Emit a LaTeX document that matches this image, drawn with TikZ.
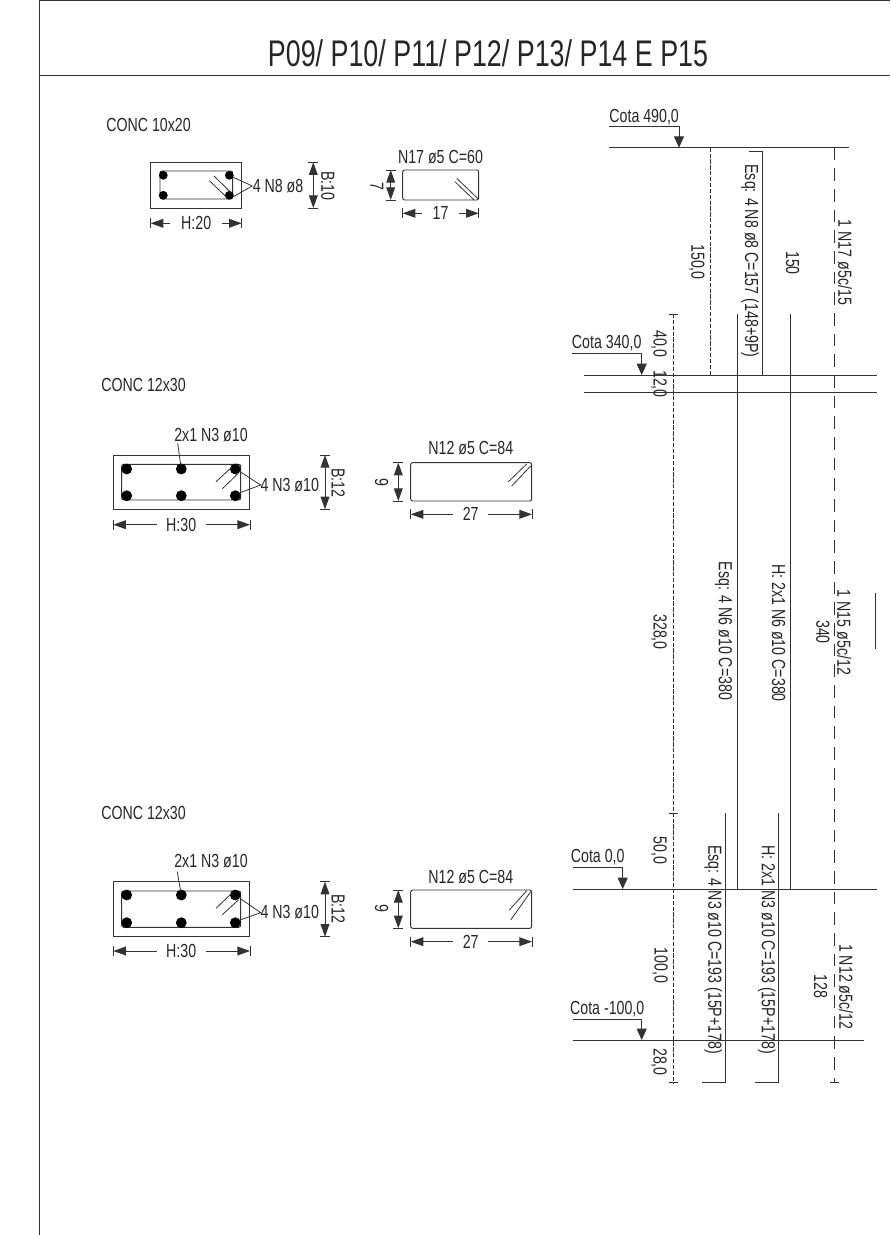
\documentclass[tikz,border=0pt]{standalone}
\usepackage{fontspec}
\setmainfont[FakeStretch=0.75]{Liberation Sans}
\newfontfamily\titlefont[FakeStretch=0.725]{Liberation Sans}
\usetikzlibrary{arrows.meta}
\definecolor{lineink}{gray}{0.2}
\tikzset{
  txt/.style={inner sep=0pt,font=\fontsize{14.2pt}{16pt}\selectfont,text=black!85},
  vtxt/.style={txt,rotate=-90},
  lefttxt/.style={txt,anchor=west},
  ttl/.style={inner sep=0pt,font=\titlefont\fontsize{27.8pt}{30pt}\selectfont,text=black!85},
  ln/.style={draw=lineink,line width=0.7pt},
  thin line/.style={draw=lineink,line width=0.6pt},
  tip/.style={-{Triangle[length=9.5pt,width=6.6pt]}},
  cotatip/.style={-{Triangle[length=8.5pt,width=7.5pt]}},
  conc/.style={ln},
  stir/.style={ln,rounded corners=1.5pt},
  sdash/.style={thin line,dash pattern=on 3.2pt off 1.2pt},
  ldash/.style={thin line,dash pattern=on 9.5pt off 6pt},
  bar/.style={fill=black,draw=none}
}
\newcommand{\HDim}[6]{% y, x1, x2, xa, xb, text
  \draw[ln] (#2,#1-5)--(#2,#1+5) (#3,#1-5)--(#3,#1+5);
  \draw[ln,tip] (#4,#1)--(#2,#1);
  \draw[ln,tip] (#5,#1)--(#3,#1);
  \node[txt] at ({(#4+#5)/2},#1) {#6};}
\newcommand{\VDim}[3]{% x, y1, y2
  \draw[ln] (#1-5,#2)--(#1+5,#2) (#1-5,#3)--(#1+5,#3);
  \draw[ln,tip] ({#1},{(#2+#3)/2})--(#1,#2);
  \draw[ln,tip] ({#1},{(#2+#3)/2})--(#1,#3);}
\newcommand{\Cota}[6]{% text, x1, x2, ytext, yline, ytip
  \node[txt] at ({(#2+#3)/2},#4) {#1};
  \draw[ln] (#2,#5)--(#3,#5)--(#3,#6-11);
  \draw[ln,cotatip] (#3,#6-11)--(#3,#6);}
\begin{document}
\begin{tikzpicture}[x=0.75pt,y=-0.75pt]
\useasboundingbox (0,0) rectangle (890,1235);
\fill[white] (0,0) rectangle (890,1235);
% frame
\draw[ln] (39,1235)--(39,0.5)--(890,0.5);
\draw[ln] (39,75)--(890,75);
\node[ttl] (title) at (488,53.5) {P09/ P10/ P11/ P12/ P13/ P14 E P15};

% ---- section 1
\node[lefttxt] (c1) at (106,125) {CONC 10x20};
\draw[conc] (150.7,162.3) rectangle (241.7,208);
\draw[stir] (160,171) rectangle (232.7,199);
\foreach \x/\y in {163.3/175.3,229.3/175.3,163.3/195.3,229.3/195.3}
  \fill[bar] (\x,\y) circle[radius=4.4];
\draw[thin line] (214,176)--(231.7,193.3) (209.3,180.7)--(226.7,197.3);
\draw[thin line] (233.3,177.3)--(252.3,186)--(233.3,196.7);
\node[lefttxt] (n8) at (252.5,186) {4 N8 ø8};
\VDim{313.3}{162.3}{208}
\node[vtxt] (b10) at (328,186) {B:10};
\HDim{223.3}{150.7}{241.7}{170}{222.3}{H:20}
\draw[stir] (402.7,170) rectangle (478.7,200);
\draw[thin line] (456.7,178.3)--(478.3,199) (455,181.7)--(474,200);
\node[txt] (n17) at (440.5,156.7) {N17 ø5 C=60};
\VDim{390.7}{170}{200}
\node[vtxt] (d7) at (377,186) {7};
\HDim{213.3}{402.7}{478.7}{421.7}{459.3}{17}

% ---- section 2
\node[lefttxt] (c2) at (101,385) {CONC 12x30};
\draw[conc] (113.3,455) rectangle (249.3,509.3);
\draw[stir] (121.7,464.3) rectangle (240.7,500);
\foreach \x in {126.7,181.3,235.3} \foreach \y in {469,495.7}
  \fill[bar] (\x,\y) circle[radius=5.4];
\draw[thin line] (216,481.7)--(231.7,467.3) (222.3,488.7)--(238.3,473.3);
\draw[thin line] (240,471.7)--(260.7,485)--(240,492.7);
\node[lefttxt] (n3a) at (260.3,485) {4 N3 ø10};
\node[txt] (n3b) at (211,435) {2x1 N3 ø10};
\draw[thin line] (177.7,443.3)--(180.7,465);
\VDim{325}{455}{509.3}
\node[vtxt] (b12a) at (338.3,482.7) {B:12};
\HDim{524.7}{113.3}{250}{156.7}{205.7}{H:30}
\draw[stir] (410.7,462.7) rectangle (531.7,501);
\draw[thin line] (508.3,481.7)--(526.7,464) (511.7,486)--(530.7,466);
\node[txt] (n12a) at (470.8,448.3) {N12 ø5 C=84};
\VDim{398.3}{462.7}{501}
\node[vtxt] (d9a) at (381.7,482.7) {9};
\HDim{514.3}{410.7}{532}{453}{488.3}{27}

% ---- section 3
\node[lefttxt] (c3) at (101,813) {CONC 12x30};
\draw[conc] (113.3,881.7) rectangle (249.3,936.7);
\draw[stir] (121.7,891) rectangle (240.7,927.3);
\foreach \x in {126.7,181.3,235.3} \foreach \y in {895,922.7}
  \fill[bar] (\x,\y) circle[radius=5.4];
\draw[thin line] (216,908.3)--(231.7,893.3) (222.3,914.7)--(238.3,900);
\draw[thin line] (240,898.3)--(260.7,912.7)--(240,920);
\node[lefttxt] (n3c) at (260.3,912.5) {4 N3 ø10};
\node[txt] (n3d) at (211,860.7) {2x1 N3 ø10};
\draw[thin line] (177.3,871.7)--(180.7,891.7);
\VDim{325}{881.7}{936.7}
\node[vtxt] (b12b) at (338.3,909) {B:12};
\HDim{951}{113.3}{250}{156.7}{205.7}{H:30}
\draw[stir] (410.7,890) rectangle (531.7,928.3);
\draw[thin line] (509.3,910)--(526.7,890.7) (510.7,920)--(530.7,891.7);
\node[txt] (n12b) at (470.8,876.7) {N12 ø5 C=84};
\VDim{398.3}{890}{928.3}
\node[vtxt] (d9b) at (381.7,908) {9};
\HDim{941.7}{410.7}{532}{453}{488.3}{27}

% ---- elevation: levels
\draw[ln] (609,147.7)--(849,147.7);
\draw[ln] (584,375)--(876.7,375);
\draw[ln] (609,375)--(849,375);
\draw[ln] (584,392.7)--(876.7,392.7);
\draw[ln] (572.7,889)--(876.7,889);
\draw[ln] (572.7,1040)--(864,1040);
% cotas
\Cota{Cota 490,0}{609.3}{679}{116.7}{126.7}{147.7}
\Cota{Cota 340,0}{571.7}{641.7}{343.3}{353.3}{375}
\Cota{Cota 0,0}{572.7}{622.7}{857.3}{867.7}{889}
\Cota{Cota -100,0}{572.7}{641.7}{1009}{1019}{1040}
% dimension line
\draw[sdash] (673.3,314)--(673.3,1082.7);
\draw[thin line] (668.5,314)--(678,314) (668.5,392.7)--(678,392.7) (668.5,813.3)--(678,813.3) (668.5,1082.7)--(678,1082.7);
\draw[sdash] (710.7,147.7)--(710.7,375);
% bars
\draw[ln] (749,151)--(762.7,151)--(762.7,375);
\draw[ln] (737.7,314)--(737.7,889);
\draw[ln] (790.3,314)--(790.3,889);
\draw[ln] (725.3,813.3)--(725.3,1082.7)--(702.3,1082.7);
\draw[ln] (778,813.3)--(778,1082.7)--(755.3,1082.7);
% stirrup line
\draw[ldash] (834.3,147.7)--(834.3,1082.7);
\draw[thin line] (830,1082.7)--(838.7,1082.7);
\draw[ln] (875,593)--(875,649);
% dimension labels
\node[vtxt] (l150a) at (696.7,262) {150,0};
\node[vtxt] (l40) at (659,344) {40,0};
\node[vtxt] (l12) at (659,384) {12,0};
\node[vtxt] (l328) at (659,632) {328,0};
\node[vtxt] (l50) at (659,850.7) {50,0};
\node[vtxt] (l100) at (660,965.5) {100,0};
\node[vtxt] (l28) at (659,1062) {28,0};
\node[vtxt] (l150b) at (792.7,263) {150};
\node[vtxt] (l340) at (823,632) {340};
\node[vtxt] (l128) at (820.7,986.7) {128};
% bar labels
\node[vtxt] (e1) at (750,261) {Esq: 4 N8 ø8 C=157 (148+9P)};
\node[vtxt] (e2) at (723.5,631) {Esq: 4 N6 ø10 C=380};
\node[vtxt] (h2) at (778.5,633) {H: 2x1 N6 ø10 C=380};
\node[vtxt] (e3) at (713.3,949.7) {Esq: 4 N3 ø10 C=193 (15P+178)};
\node[vtxt] (h3) at (766.7,949.7) {H: 2x1 N3 ø10 C=193 (15P+178)};
\node[vtxt] (s1) at (845,262.5) {1 N17 ø5c/15};
\node[vtxt] (s2) at (844,632.5) {1 N15 ø5c/12};
\node[vtxt] (s3) at (846,986.7) {1 N12 ø5c/12};
\end{tikzpicture}
\end{document}
